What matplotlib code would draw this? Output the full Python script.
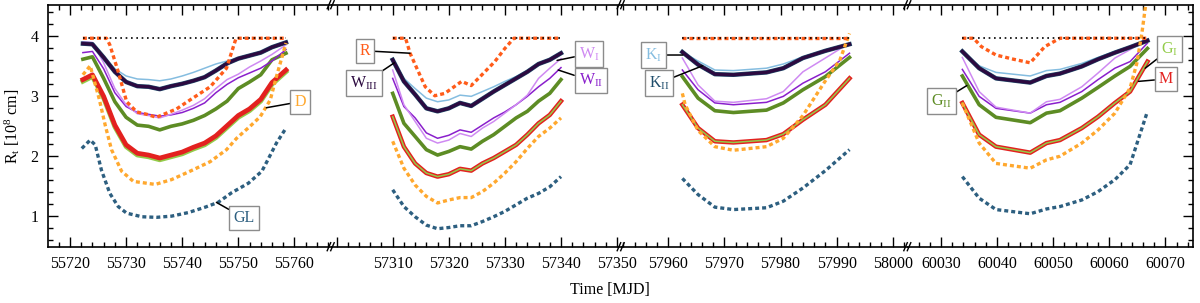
import matplotlib
matplotlib.use("Agg")
import matplotlib.pyplot as plt
from matplotlib.ticker import MultipleLocator, FuncFormatter
from matplotlib.lines import Line2D

plt.rcParams['font.family'] = ['Liberation Serif', 'DejaVu Serif']
plt.rcParams['mathtext.fontset'] = 'custom'
plt.rcParams['mathtext.rm'] = 'Liberation Serif'
plt.rcParams['mathtext.it'] = 'Liberation Serif:italic'
plt.rcParams['font.size'] = 11.5

# ---- data: panel 1 (2011) ----
p1_t = [55722.3, 55724, 55726, 55728, 55730, 55732, 55734, 55736, 55738, 55740,
        55742, 55744, 55746, 55748, 55750, 55752, 55754, 55756, 55758.5]
p1_KI = [3.87, 3.86, 3.66, 3.45, 3.33, 3.28, 3.27, 3.25, 3.28, 3.33,
         3.39, 3.46, 3.53, 3.58, 3.63, 3.68, 3.73, 3.82, 3.90]
p1_WIII = [3.87, 3.86, 3.64, 3.40, 3.23, 3.16, 3.15, 3.11, 3.16, 3.20,
           3.25, 3.31, 3.42, 3.54, 3.62, 3.67, 3.72, 3.81, 3.89]
p1_WI = [3.90, 3.89, 3.55, 3.12, 2.85, 2.70, 2.67, 2.63, 2.69, 2.76,
         2.84, 2.95, 3.12, 3.27, 3.36, 3.48, 3.58, 3.69, 3.85]
p1_WII = [3.72, 3.74, 3.45, 3.05, 2.82, 2.72, 2.69, 2.66, 2.68, 2.72,
          2.79, 2.88, 3.05, 3.19, 3.30, 3.38, 3.46, 3.58, 3.77]
p1_GII = [3.61, 3.65, 3.29, 2.90, 2.64, 2.51, 2.49, 2.43, 2.49, 2.53,
          2.59, 2.67, 2.78, 2.91, 3.12, 3.23, 3.35, 3.60, 3.71]
p1_M = [3.27, 3.35, 2.99, 2.51, 2.18, 2.04, 2.01, 1.96, 2.01, 2.06,
        2.14, 2.21, 2.33, 2.50, 2.67, 2.78, 2.94, 3.22, 3.43]
p1_GI = [3.24, 3.32, 2.96, 2.48, 2.15, 2.01, 1.98, 1.93, 1.98, 2.03,
         2.11, 2.18, 2.30, 2.47, 2.64, 2.75, 2.91, 3.19, 3.40]
p1_R_t = [55722.3, 55726.5, 55727.1, 55728.6, 55730.1, 55731.9, 55733.7, 55735.4, 55737.2,
          55739.0, 55741.4, 55745.0, 55747.9, 55749.6, 55758.5]
p1_R = [3.96, 3.96, 3.85, 3.40, 2.90, 2.73, 2.69, 2.64, 2.71,
        2.78, 2.93, 3.15, 3.46, 3.96, 3.96]
p1_D_t = [55722.3, 55723.6, 55725.2, 55726.3, 55727.4, 55729.2, 55731.3, 55735.2, 55738.1,
          55741.4, 55745.0, 55747.9, 55749.7, 55752.1, 55753.9, 55755.7, 55756.8, 55758.5]
p1_D = [3.35, 3.50, 2.95, 2.50, 2.10, 1.74, 1.57, 1.52, 1.60,
        1.74, 1.90, 2.10, 2.29, 2.49, 2.65, 2.93, 3.32, 3.88]
p1_GL_t = [55722.1, 55723.6, 55724.5, 55725.6, 55727.1, 55728.6, 55730.1, 55732.8, 55735.4, 55738.1,
           55741.1, 55744.1, 55746.4, 55748.8, 55751.8, 55754.2, 55755.1, 55756.8, 55758.3]
p1_GL = [2.12, 2.26, 2.18, 1.76, 1.37, 1.15, 1.04, 0.98, 0.97, 0.99,
         1.05, 1.14, 1.22, 1.38, 1.54, 1.74, 1.90, 2.21, 2.43]

# ---- data: panel 2 (2015) ----
p2_t = [57310, 57312, 57314, 57316, 57318, 57320, 57322, 57324, 57326, 57328,
        57330, 57332, 57334, 57336, 57338, 57340]
p2_KI = [3.60, 3.29, 3.12, 2.96, 2.90, 2.93, 3.01, 2.99, 3.07, 3.15,
         3.24, 3.32, 3.42, 3.52, 3.60, 3.70]
p2_WIII = [3.60, 3.24, 3.02, 2.79, 2.74, 2.79, 2.88, 2.83, 2.95, 3.07,
           3.18, 3.29, 3.40, 3.53, 3.60, 3.71]
p2_WI = [3.43, 2.85, 2.57, 2.29, 2.21, 2.26, 2.37, 2.32, 2.46, 2.57,
         2.71, 2.85, 3.01, 3.29, 3.46, 3.62]
p2_WII = [3.29, 2.82, 2.63, 2.38, 2.29, 2.34, 2.43, 2.39, 2.51, 2.63,
          2.73, 2.85, 2.99, 3.15, 3.29, 3.47]
p2_GII = [3.04, 2.54, 2.32, 2.10, 2.01, 2.07, 2.15, 2.11, 2.24, 2.35,
          2.49, 2.63, 2.74, 2.91, 3.04, 3.27]
p2_M = [2.65, 2.15, 1.87, 1.71, 1.65, 1.69, 1.78, 1.75, 1.87, 1.96,
        2.07, 2.18, 2.35, 2.54, 2.68, 2.91]
p2_D = [2.24, 1.79, 1.51, 1.32, 1.21, 1.26, 1.30, 1.30, 1.40, 1.54,
        1.71, 1.90, 2.12, 2.32, 2.46, 2.63]
p2_GL = [1.43, 1.15, 0.98, 0.84, 0.78, 0.80, 0.83, 0.83, 0.90, 0.98,
         1.07, 1.18, 1.29, 1.37, 1.48, 1.65]
p2_R_t = [57310, 57312.3, 57313.1, 57314.3, 57315.8, 57317.5, 57319.3, 57322.3, 57324.0,
          57325.9, 57328.2, 57330.0, 57331.6, 57340]
p2_R = [3.96, 3.96, 3.71, 3.46, 3.15, 3.00, 3.04, 3.24, 3.17,
        3.35, 3.57, 3.79, 3.96, 3.96]

# ---- data: panel 3 (2017) ----
p3_t = [57962.5, 57965.3, 57968.3, 57971.6, 57977.5, 57980.5, 57984, 57988, 57992.3]
p3_KI = [3.73, 3.58, 3.43, 3.42, 3.46, 3.53, 3.65, 3.76, 3.86]
p3_WIII = [3.73, 3.52, 3.36, 3.35, 3.39, 3.46, 3.63, 3.75, 3.86]
p3_WI = [3.63, 3.18, 2.91, 2.89, 2.95, 3.07, 3.40, 3.63, 3.88]
p3_WII = [3.43, 3.10, 2.88, 2.85, 2.89, 2.99, 3.21, 3.40, 3.71]
p3_GII = [3.32, 2.96, 2.75, 2.72, 2.76, 2.88, 3.10, 3.32, 3.64]
p3_M = [2.85, 2.46, 2.24, 2.22, 2.26, 2.36, 2.60, 2.85, 3.29]
p3_D_t = [57962.5, 57963.0, 57965.3, 57968.3, 57971.6, 57977.5, 57980.5, 57984, 57988,
          57990.6, 57992.3]
p3_D = [3.04, 2.85, 2.42, 2.15, 2.09, 2.15, 2.29, 2.67, 3.25, 3.60, 4.04]
p3_GL = [1.62, 1.35, 1.14, 1.10, 1.13, 1.24, 1.46, 1.75, 2.10]
p3_R_t = [57962.5, 57992.3]
p3_R = [3.96, 3.96]

# ---- data: panel 4 (2023) ----
p4_t = [60033.8, 60036.8, 60039.8, 60045.9, 60048.8, 60051.2, 60055.1, 60058.0,
        60061.0, 60063.7, 60066.8]
p4_KI = [3.74, 3.50, 3.39, 3.33, 3.42, 3.44, 3.54, 3.64, 3.74, 3.82, 3.91]
p4_WIII = [3.74, 3.46, 3.29, 3.22, 3.33, 3.37, 3.49, 3.61, 3.72, 3.81, 3.92]
p4_WI = [3.64, 3.07, 2.81, 2.71, 2.90, 2.94, 3.15, 3.38, 3.63, 3.77, 3.94]
p4_WII = [3.44, 2.99, 2.79, 2.71, 2.85, 2.89, 3.07, 3.27, 3.46, 3.57, 3.88]
p4_GII = [3.33, 2.85, 2.64, 2.55, 2.71, 2.75, 2.96, 3.14, 3.33, 3.49, 3.79]
p4_M = [2.88, 2.35, 2.15, 2.05, 2.21, 2.26, 2.46, 2.65, 2.88, 3.07, 3.57]
p4_D_t = [60033.8, 60036.8, 60039.8, 60045.9, 60048.8, 60051.2, 60055.1, 60058.0,
          60061.0, 60063.7, 60064.9, 60065.8, 60066.4, 60066.8]
p4_D = [2.88, 2.21, 1.87, 1.79, 1.93, 1.99, 2.21, 2.43, 2.71, 3.13, 3.54, 4.04, 4.46, 4.75]
p4_GL = [1.65, 1.29, 1.10, 1.03, 1.11, 1.15, 1.26, 1.40, 1.60, 1.85, 2.74]
p4_R_t = [60033.8, 60035.8, 60037.2, 60039.8, 60042.9, 60045.9, 60048.5, 60051.2, 60066.8]
p4_R = [3.96, 3.96, 3.82, 3.68, 3.61, 3.55, 3.82, 3.96, 3.96]

RL = 3.96  # Roche-lobe level (dotted)

colors = {
    'KI': '#85bde0', 'KII': '#1f4d6b', 'WIII': '#2c0a40', 'WI': '#cf8af2',
    'WII': '#8a1fcc', 'GII': '#5d8c24', 'GI': '#93cc4a', 'M': '#e3211f',
    'D': '#ffa82e', 'GL': '#2d5f80', 'R': '#ff5c1a',
}

panels = [
    dict(t=p1_t, KI=p1_KI, WIII=p1_WIII, WI=p1_WI, WII=p1_WII, GII=p1_GII, M=p1_M, GI=p1_GI,
         D_t=p1_D_t, D=p1_D, GL_t=p1_GL_t, GL=p1_GL, R_t=p1_R_t, R=p1_R, gi_on_top=False),
    dict(t=p2_t, KI=p2_KI, WIII=p2_WIII, WI=p2_WI, WII=p2_WII, GII=p2_GII, M=p2_M, GI=p2_M,
         D_t=p2_t, D=p2_D, GL_t=p2_t, GL=p2_GL, R_t=p2_R_t, R=p2_R, gi_on_top=True),
    dict(t=p3_t, KI=p3_KI, WIII=p3_WIII, WI=p3_WI, WII=p3_WII, GII=p3_GII, M=p3_M, GI=p3_M,
         D_t=p3_D_t, D=p3_D, GL_t=p3_t, GL=p3_GL, R_t=p3_R_t, R=p3_R, gi_on_top=True),
    dict(t=p4_t, KI=p4_KI, WIII=p4_WIII, WI=p4_WI, WII=p4_WII, GII=p4_GII, M=p4_M, GI=p4_M,
         D_t=p4_D_t, D=p4_D, GL_t=p4_t, GL=p4_GL, R_t=p4_R_t, R=p4_R, gi_on_top=True),
]

W, H = 1200, 303
fig = plt.figure(figsize=(W / 100, H / 100), dpi=100)

edges_px = [48, 331.7, 621.7, 908.3, 1193.3]
xlims = [(55716.08, 55766.65), (57299.13, 57350.82), (57951.69, 58002.78), (60024.17, 60074.97)]
top_px, bot_px = 4.7, 246.7
hidden_ticklabels = [57300]

dash = (1.2, 0.9)
axes = []
for i, p in enumerate(panels):
    l = edges_px[i] / W
    w = (edges_px[i + 1] - edges_px[i]) / W
    ax = fig.add_axes([l, 1 - bot_px / H, w, (bot_px - top_px) / H])
    axes.append(ax)
    t = p['t']

    ax.plot(p['GL_t'], p['GL'], color=colors['GL'], lw=2.4, dashes=dash, zorder=3)
    ax.plot(t, p['GII'], color=colors['GII'], lw=2.6, zorder=4)
    ax.plot(t, p['WII'], color=colors['WII'], lw=1.1, zorder=5)
    ax.plot(t, p['WI'], color=colors['WI'], lw=1.1, zorder=5)
    ax.plot(t, p['KI'], color=colors['KI'], lw=1.1, zorder=5)
    ax.plot(t, p['WIII'], color=colors['KII'], lw=3.2, zorder=6)
    ax.plot(t, p['WIII'], color=colors['WIII'], lw=2.4, zorder=6)
    if p['gi_on_top']:
        ax.plot(t, p['M'], color=colors['M'], lw=3.2, zorder=7)
        ax.plot(t, p['GI'], color=colors['GI'], lw=1.1, zorder=7)
    else:
        ax.plot(t, p['GI'], color=colors['GI'], lw=3.4, zorder=7)
        ax.plot(t, p['M'], color=colors['M'], lw=3.4, zorder=7)
    ax.plot(p['D_t'], p['D'], color=colors['D'], lw=2.4, dashes=dash, zorder=8)
    ax.plot(p['R_t'], p['R'], color=colors['R'], lw=2.4, dashes=dash, zorder=8)
    ax.plot([t[0], t[-1]], [RL, RL], color='black', lw=1.2, dashes=(1, 2.2), zorder=9)

    ax.set_xlim(*xlims[i])
    ax.set_ylim(0.48, 4.52)
    ax.xaxis.set_major_locator(MultipleLocator(10))
    ax.xaxis.set_minor_locator(MultipleLocator(2))
    ax.xaxis.set_major_formatter(FuncFormatter(
        lambda v, pos: '' if round(v) in hidden_ticklabels else f'{v:.0f}'))
    ax.yaxis.set_major_locator(MultipleLocator(1))
    ax.yaxis.set_minor_locator(MultipleLocator(0.2))
    ax.tick_params(which='both', direction='in', top=True, bottom=True, width=1.0, pad=7)
    ax.tick_params(which='major', length=7)
    ax.tick_params(which='minor', length=3.5)
    for s in ax.spines.values():
        s.set_linewidth(1.2)
    if i == 0:
        ax.spines['right'].set_visible(False)
        ax.tick_params(axis='y', which='both', left=True, right=False)
    elif i == 3:
        ax.spines['left'].set_visible(False)
        ax.tick_params(axis='y', which='both', left=False, right=True, labelleft=False)
    else:
        ax.spines['left'].set_visible(False)
        ax.spines['right'].set_visible(False)
        ax.tick_params(axis='y', which='both', left=False, right=False, labelleft=False)

# axis break marks
for xb in edges_px[1:4]:
    for yb in (top_px, bot_px):
        for dx in (-4.5, -1.0):
            x0, x1 = xb + dx, xb + dx + 3.5
            fig.add_artist(Line2D([x0 / W, x1 / W], [1 - (yb + 4) / H, 1 - (yb - 4) / H],
                                  color='black', lw=1.0))

# curve labels: (panel, text, colour key, text position, curve point)
labels = [
    (0, 'D', 'D', (55761.0, 2.90), (55755.0, 2.80)),
    (0, 'GL', 'GL', (55751.0, 0.96), (55746.1, 1.22)),
    (1, 'R', 'R', (57305.1, 3.75), (57313.1, 3.71)),
    (1, r'W$_\mathrm{III}$', 'WIII', (57304.9, 3.21), (57310.3, 3.55)),
    (1, r'W$_\mathrm{I}$', 'WI', (57345.0, 3.70), (57339.3, 3.59)),
    (1, r'W$_\mathrm{II}$', 'WII', (57345.3, 3.25), (57339.5, 3.43)),
    (2, r'K$_\mathrm{I}$', 'KI', (57957.3, 3.68), (57962.6, 3.68)),
    (2, r'K$_\mathrm{II}$', 'KII', (57958.3, 3.21), (57966.1, 3.50)),
    (3, r'G$_\mathrm{II}$', 'GII', (60030.1, 2.91), (60034.6, 3.17)),
    (3, r'G$_\mathrm{I}$', 'GI', (60070.8, 3.78), (60066.4, 3.46)),
    (3, 'M', 'M', (60070.1, 3.28), (60065.2, 3.24)),
]
for i, txt, ck, xyt, xy in labels:
    axes[i].annotate(txt, xy=xy, xytext=xyt, color=colors[ck], ha='center', va='center',
                     fontsize=11.5, annotation_clip=False, zorder=20,
                     bbox=dict(boxstyle='square,pad=0.25', fc='white', ec='#8c8c8c', lw=1.0),
                     arrowprops=dict(arrowstyle='-', color='black', lw=1.1,
                                     shrinkA=0, shrinkB=0))

fig.text(12 / W, 1 - 126 / H, r'R$_\mathrm{t}$ [10$^8$ cm]', rotation=90,
         ha='center', va='center', fontsize=11.5)
fig.text(610 / W, 1 - 290 / H, 'Time [MJD]', ha='center', va='center', fontsize=11.5)

fig.savefig('out.png', dpi=100)
